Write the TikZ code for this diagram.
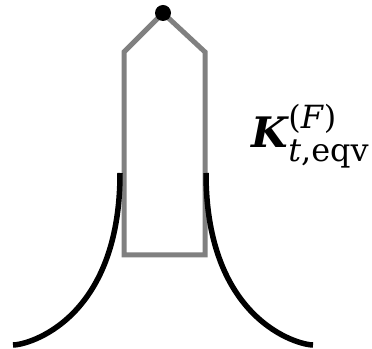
\documentclass[tikz,border=0pt]{standalone}
\usepackage{amsmath}
\usepackage{fontspec}
\newfontfamily\lblfont{DejaVu Serif}
\DeclareMathSizes{10}{10}{7.6}{5}
\usetikzlibrary{positioning}
\definecolor{boxgray}{HTML}{808080}
\begin{document}
\begin{tikzpicture}[x=1pt, y=1pt,
    frame/.style={boxgray, line width=5pt},
    leg/.style={black, line width=5.5pt}]
    \useasboundingbox (0,0) rectangle (372,348);
    % 绘制灰色框
    \draw[frame, line join=miter] (124,93) -- (124,296) -- (163,335) -- (205,296) -- (205,93) -- cycle;
    \node[circle, fill=black, inner sep=0pt, minimum size=16pt] (top) at (163,335) {};

    % 绘制两侧曲线
    \draw[leg] (120,175) .. controls (120,28) and (28,3) .. (13,3);
    \draw[leg] (206,175) .. controls (206,28) and (298,3) .. (313,3);

    % 标注
    \node[anchor=base west, inner sep=0pt, scale=4.2, font=\lblfont] (lbl) at (251,200)
        {$\text{\bfseries\itshape K}^{\text{\raisebox{0.6pt}{(\textit{F})}}}_{\text{\textit{t},eqv}}$};
\end{tikzpicture}
\end{document}
